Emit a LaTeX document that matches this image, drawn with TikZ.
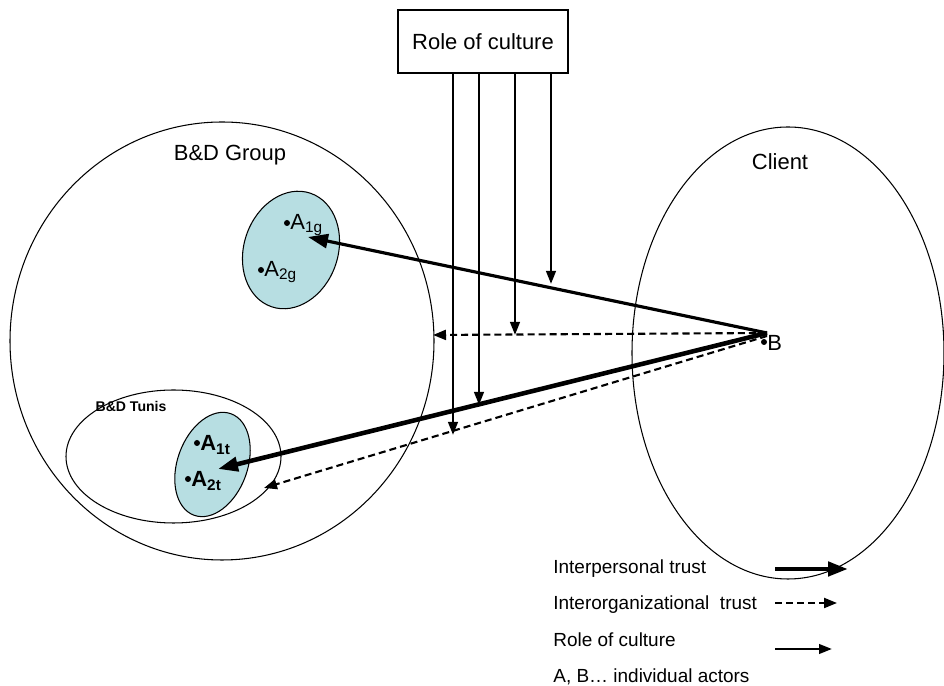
\documentclass[tikz,border=0pt]{standalone}
\usepackage{fontspec}
\setmainfont{Liberation Sans}
\usetikzlibrary{arrows.meta}
\definecolor{blobblue}{RGB}{183,222,226}
\tikzstyle{dot}=[circle, fill=black, inner sep=0mm, minimum size=1.2mm]
\tikzstyle{blob}=[draw=black, fill=blobblue, line width=.6pt]
\tikzstyle{ring}=[draw=black, line width=.6pt]
\tikzstyle{person}=[line width=2.6pt, -{Triangle[length=4mm, width=2.8mm]}]
\tikzstyle{org}=[line width=1.2pt, dash pattern=on 4pt off 2.3pt, -{Triangle[length=2.6mm, width=2mm]}]
\tikzstyle{culture}=[line width=1.4pt, -{Triangle[length=2.6mm, width=1.9mm]}]
\newcommand{\mainsize}{\fontsize{12.5}{15}\selectfont}
\newcommand{\legendfont}{\fontsize{10.8}{13}\selectfont}
\begin{document}
\begin{tikzpicture}[x=0.02cm, y=0.02cm]
\useasboundingbox (0,0) rectangle (944,686);

% groups
\draw[ring] (222,345) ellipse [x radius=212, y radius=219];
\draw[ring] (788,333) ellipse [x radius=156, y radius=226];
\draw[ring] (173.5,229.5) ellipse [x radius=107.5, y radius=66.5];
\draw[blob, rotate around={-19:(291,436)}] (291,436) ellipse [x radius=47, y radius=60];
\draw[blob, rotate around={-20:(212.5,221.5)}] (212.5,221.5) ellipse [x radius=35, y radius=54];

\node[font=\mainsize] (grp) at (230,531) {B\&D Group};
\node[font=\mainsize] (client) at (780,524) {Client};
\node[font=\fontsize{8}{10}\selectfont\bfseries] (tunis) at (131,280) {B\&D Tunis};

% actors
\node[dot] (a1g) at (287,463) {};
\node[dot] (a2g) at (261,416) {};
\node[dot] (a1t) at (197,243) {};
\node[dot] (a2t) at (188,207) {};
\node[dot] (b) at (764,344) {};
\node[anchor=west, inner sep=0, font=\mainsize] (a1glab) at (290,461) {A\textsubscript{1g}};
\node[anchor=west, inner sep=0, font=\mainsize] (a2glab) at (264,414) {A\textsubscript{2g}};
\node[anchor=west, inner sep=0, font=\mainsize\bfseries] (a1tlab) at (200,241) {A\textsubscript{1t}};
\node[anchor=west, inner sep=0, font=\mainsize\bfseries] (a2tlab) at (191,205) {A\textsubscript{2t}};
\node[anchor=west, inner sep=0, font=\mainsize] (blab) at (767,343) {B};

% trust
\coordinate (apex) at (767,353);
\coordinate (apex2) at (767,350);
\coordinate (t1g) at (308,449);
\coordinate (t2t) at (218,217);
\coordinate (tgrp) at (433,351);
\coordinate (ttun) at (264,198);
\draw[person, line width=1.8pt] (apex) -- (t1g);
\draw[person] (apex) -- (t2t);
\draw[org] (apex) -- (tgrp);
\draw[org] (apex2) -- (ttun);

% culture
\node[draw, line width=.6pt, minimum width=3.4cm, minimum height=1.26cm, font=\mainsize] (role) at (483,644.5) {Role of culture};
\coordinate (c1) at (453,251);
\coordinate (c2) at (479,281);
\coordinate (c3) at (515,351);
\coordinate (c4) at (551,402);
\foreach \c in {c1,c2,c3,c4}
  \draw[culture] (role.south -| \c) -- (\c);

% legend
\node[anchor=west, inner sep=0, font=\legendfont] (leg1) at (553,117) {Interpersonal trust};
\node[anchor=west, inner sep=0, font=\legendfont] (leg2) at (553,81) {Interorganizational\ \ trust};
\node[anchor=west, inner sep=0, font=\legendfont] (leg3) at (553,46) {Role of culture};
\node[anchor=west, inner sep=0, font=\legendfont] (leg4) at (553,9) {A, B… individual actors};
\coordinate (l1a) at (775,117);
\coordinate (l1b) at (848,117);
\coordinate (l2a) at (775,83);
\coordinate (l2b) at (837,83);
\coordinate (l3a) at (775,37);
\coordinate (l3b) at (832,37);
\draw[person] (l1a) -- (l1b);
\draw[org] (l2a) -- (l2b);
\draw[culture] (l3a) -- (l3b);
\end{tikzpicture}
\end{document}
